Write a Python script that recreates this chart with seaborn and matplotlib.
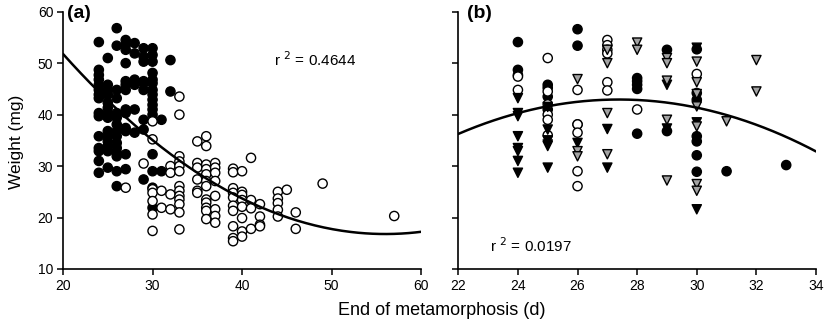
import numpy as np
import pandas as pd
import matplotlib
matplotlib.use("Agg")
import matplotlib.pyplot as plt
import seaborn as sns

sns.set_theme(style="ticks")
plt.rcParams['font.family'] = ['Liberation Sans', 'DejaVu Sans']
plt.rcParams['text.color'] = 'black'
plt.rcParams['axes.labelcolor'] = 'black'
plt.rcParams['xtick.color'] = 'black'
plt.rcParams['ytick.color'] = 'black'

# ---------------- Panel (a) data ----------------
a_filled_x = ([24]*15 + [25]*14 + [26]*15 + [27]*13 + [28]*6 + [29]*9 + [30]*16 + [31]*2 + [32]*2)
a_filled_y = [54.1, 48.7, 47.7, 46.8, 45.8, 44.8, 43.9, 43.2, 40.3, 39.7, 35.8, 33.5, 32.9, 31.0, 28.7,
              51.0, 45.8, 44.8, 43.9, 42.3, 41.3, 40.3, 39.4, 36.8, 35.8, 34.8, 33.9, 32.9, 29.7,
              56.8, 53.4, 44.8, 43.2, 40.3, 39.4, 38.1, 36.8, 35.8, 34.5, 33.5, 32.6, 31.9, 29.0, 26.1,
              54.5, 53.5, 52.6, 50.0, 46.5, 45.8, 44.8, 41.0, 40.3, 37.4, 36.8, 32.3, 29.4,
              53.9, 51.9, 46.8, 45.8, 41.0, 36.5,
              52.9, 51.3, 50.3, 46.5, 46.1, 44.8, 39.0, 37.1, 27.4,
              52.9, 51.6, 50.3, 48.1, 46.8, 46.1, 44.8, 43.9, 42.9, 41.9, 41.0, 40.0, 32.3, 29.0, 25.8, 21.9,
              39.0, 29.0,
              50.6, 44.5]

a_open_x = ([27] + [29] + [30]*7 + [31]*2 + [32]*4 + [33]*13 + [35]*6 + [36]*12 + [37]*8 +
            [39]*10 + [40]*8 + [41]*4 + [42]*4 + [44]*5 + [45] + [46]*2 + [49] + [57])
a_open_y = [25.8,
            30.5,
            38.7, 35.2, 25.5, 24.8, 23.2, 20.6, 17.4,
            25.2, 21.9,
            30.0, 28.7, 24.5, 21.6,
            43.5, 40.0, 31.9, 30.9, 30.0, 29.0, 26.1, 25.2, 24.2, 23.5, 22.6, 21.0, 17.7,
            34.8, 30.6, 29.7, 27.4, 25.2, 24.8,
            35.8, 33.9, 30.3, 29.4, 28.4, 27.1, 26.1, 23.5, 22.9, 21.9, 21.3, 19.7,
            30.6, 29.7, 28.7, 27.1, 24.2, 21.6, 20.3, 19.0,
            29.5, 28.8, 25.7, 24.8, 23.9, 22.3, 21.3, 18.3, 16.0, 15.4,
            29.0, 25.0, 24.4, 23.4, 22.1, 19.9, 17.3, 16.3,
            31.6, 23.4, 21.8, 17.8,
            22.6, 20.2, 18.6, 18.3,
            25.0, 23.7, 22.8, 21.5, 20.2,
            25.4,
            21.0, 17.8,
            26.6,
            20.3]

# ---------------- Panel (b) data ----------------
b_filled_x = [24]*3 + [25]*4 + [26]*3 + [28]*5 + [29]*2 + [30]*7 + [31] + [33]
b_filled_y = [54.1, 48.7, 47.7,
              45.8, 45.2, 43.5, 41.0,
              56.6, 53.4, 38.1,
              47.1, 46.5, 45.8, 45.0, 36.3,
              52.6, 36.8,
              52.7, 44.2, 42.9, 35.8, 34.8, 32.1, 28.9,
              29.0,
              30.2]

b_open_x = [24]*2 + [25]*6 + [26]*5 + [27]*6 + [28] + [30]
b_open_y = [47.4, 44.8,
            51.0, 44.5, 42.0, 40.0, 39.0, 36.0,
            44.8, 38.1, 36.5, 29.0, 26.1,
            54.5, 53.5, 52.6, 51.9, 46.3, 44.7,
            41.0,
            47.9]

b_tri_black_x = [24]*8 + [25]*6 + [26] + [27]*2 + [29]*2 + [30]*3
b_tri_black_y = [43.2, 40.3, 39.7, 35.8, 33.5, 32.9, 31.0, 28.7,
                 41.5, 37.1, 35.0, 34.2, 33.9, 29.7,
                 34.5,
                 37.2, 29.7,
                 45.8, 37.3,
                 53.0, 38.5, 21.6]

b_tri_gray_x = [26]*3 + [27]*4 + [28]*2 + [29]*5 + [30]*7 + [31] + [32]*2
b_tri_gray_y = [46.9, 32.9, 31.9,
                52.6, 50.0, 40.3, 32.3,
                54.0, 52.6,
                51.0, 50.0, 46.6, 39.0, 27.2,
                50.3, 46.3, 44.0, 41.6, 37.7, 26.5, 25.2,
                38.7,
                50.6, 44.5]

# quadratic fit coefficients (highest power first)
fit_a = [0.027, -3.024, 101.47]
fit_b = [-0.2306, 12.63, -130.0]

r2_a = "0.4644"
r2_b = "0.0197"

df_a = pd.DataFrame({
    "x": a_filled_x + a_open_x,
    "y": a_filled_y + a_open_y,
    "g": ["filled"]*len(a_filled_x) + ["open"]*len(a_open_x),
})
df_b = pd.DataFrame({
    "x": b_filled_x + b_open_x + b_tri_black_x + b_tri_gray_x,
    "y": b_filled_y + b_open_y + b_tri_black_y + b_tri_gray_y,
    "g": (["filled"]*len(b_filled_x) + ["open"]*len(b_open_x) +
          ["tri_black"]*len(b_tri_black_x) + ["tri_gray"]*len(b_tri_gray_x)),
})

palette = {"filled": "black", "open": "white", "tri_black": "black", "tri_gray": "#a3a3a3"}
markers = {"filled": "o", "open": "o", "tri_black": "v", "tri_gray": "v"}

fig = plt.figure(figsize=(8.25, 3.22), dpi=100)
ax1 = fig.add_axes([0.0764, 0.1646, 0.434, 0.799])
ax2 = fig.add_axes([0.5555, 0.1646, 0.4336, 0.799])

for ax, df, xl, xt, fit in [(ax1, df_a, (20, 60), [20, 30, 40, 50, 60], fit_a),
                            (ax2, df_b, (22, 34), [22, 24, 26, 28, 30, 32, 34], fit_b)]:
    sns.scatterplot(data=df, x="x", y="y", hue="g", style="g", palette=palette,
                    markers=markers, edgecolor="black", linewidth=1.0, s=44,
                    legend=False, ax=ax, zorder=3, clip_on=False)
    xx = np.linspace(xl[0], xl[1], 200)
    sns.lineplot(x=xx, y=np.polyval(fit, xx), color="black", lw=1.8, ax=ax, zorder=4)
    ax.set_xlim(*xl)
    ax.set_ylim(10, 60)
    ax.set_xticks(xt)
    ax.set_yticks([10, 20, 30, 40, 50, 60])
    ax.set_xlabel("")
    ax.set_ylabel("")
    for s in ["top", "right"]:
        ax.spines[s].set_visible(False)
    for s in ["left", "bottom"]:
        ax.spines[s].set_linewidth(1.2)
        ax.spines[s].set_color("black")
    ax.tick_params(direction="out", length=4, width=1.1, labelsize=10, colors="black", pad=3)

ax2.set_yticklabels([])

ax1.text(0.012, 1.025, "(a)", transform=ax1.transAxes, fontsize=14, fontweight="bold",
         va="top", ha="left")
ax2.text(0.025, 1.025, "(b)", transform=ax2.transAxes, fontsize=14, fontweight="bold",
         va="top", ha="left")
ax1.text(0.59, 0.79, r"r $^{2}$ = " + r2_a, transform=ax1.transAxes, fontsize=11,
         va="baseline", ha="left")
ax2.text(0.09, 0.065, r"r $^{2}$ = " + r2_b, transform=ax2.transAxes, fontsize=11,
         va="baseline", ha="left")

fig.text(0.535, 0.035, "End of metamorphosis (d)", ha="center", va="center", fontsize=13)
fig.text(0.02, 0.56, "Weight (mg)", ha="center", va="center", rotation=90, fontsize=12.5)

fig.savefig("out.png", dpi=100)
